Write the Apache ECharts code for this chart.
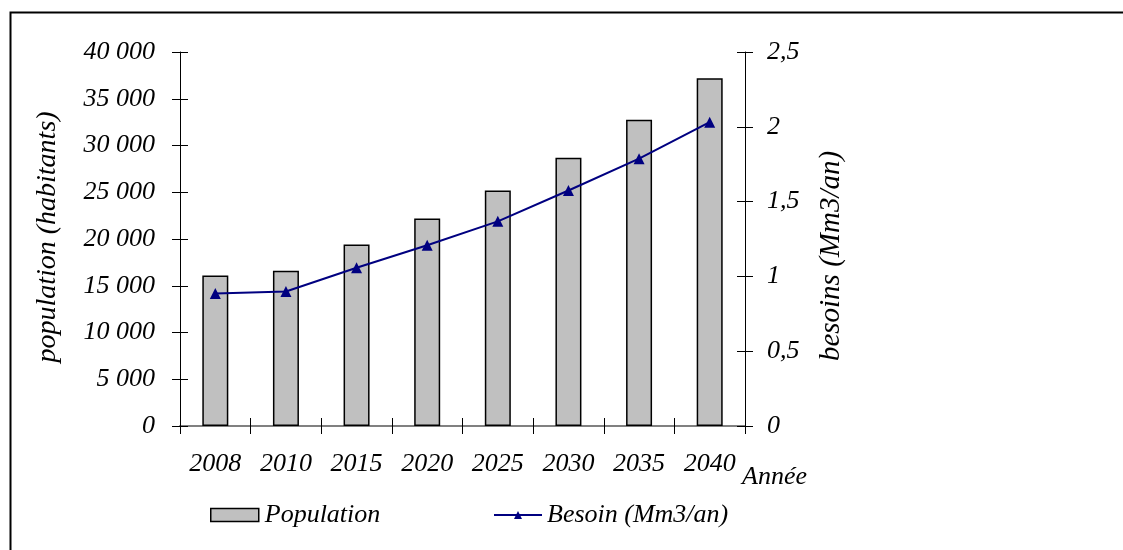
<!DOCTYPE html>
<html>
<head>
<meta charset="utf-8">
<script src="https://cdn.jsdelivr.net/npm/echarts@6/dist/echarts.min.js"></script>
<style>
html,body{margin:0;padding:0;background:#fff;}
#chart{width:1123px;height:550px;}
</style>
</head>
<body>
<div id="chart"></div>
<script>
const categories = ['2008','2010','2015','2020','2025','2030','2035','2040'];
const population = [16100, 16600, 19400, 22200, 25200, 28700, 32750, 37200];
const besoin = [0.886, 0.899, 1.058, 1.208, 1.368, 1.574, 1.787, 2.031];
const leftTicks = [0, 5000, 10000, 15000, 20000, 25000, 30000, 35000, 40000];
const rightTicks = [0, 0.5, 1, 1.5, 2, 2.5];

const FONT = '"Liberation Serif", "DejaVu Serif", serif';
const FS = 26;
const txt = {fontFamily: FONT, fontStyle: 'italic', fontSize: FS, color: '#000'};

const chart = echarts.init(document.getElementById('chart'));
const fmtLeft = v => v === 0 ? '0' : String(v).replace(/\B(?=(\d{3})+(?!\d))/g, ' ');
const fmtRight = v => String(v).replace('.', ',');

chart.setOption({
  animation: false,
  backgroundColor: '#fff',
  grid: {left: 180, right: 378, top: 52, bottom: 124, containLabel: false},
  legend: [
    {
      data: [{name: 'Population', icon: 'rect'}], left: 210, top: 502, padding: 0,
      itemWidth: 48, itemHeight: 13, itemGap: 0,
      textStyle: Object.assign({}, txt, {padding: [0, 0, 0, 1]}),
      itemStyle: {borderColor: '#000', borderWidth: 1.5}
    },
    {
      data: ['Besoin (Mm3/an)'], left: 493, top: 502, padding: 0,
      itemWidth: 48, itemHeight: 10,
      textStyle: Object.assign({}, txt, {padding: [0, 0, 0, 0]})
    }
  ],
  xAxis: [
    {
      type: 'category', data: categories, position: 'bottom',
      axisLine: {lineStyle: {color: '#808080', width: 2}},
      axisTick: {show: true, inside: false, length: 8, lineStyle: {color: '#000', width: 1}},
      axisLabel: Object.assign({}, txt, {margin: 25})
    },
    {
      type: 'category', data: categories, position: 'bottom',
      axisLine: {show: false},
      axisTick: {show: true, inside: true, length: 8, lineStyle: {color: '#000', width: 1}},
      axisLabel: {show: false}
    }
  ],
  yAxis: [
    {
      type: 'value', position: 'left', min: leftTicks[0], max: leftTicks[leftTicks.length - 1], interval: 5000,
      axisLine: {show: true, lineStyle: {color: '#000', width: 1}},
      axisTick: {show: true, inside: false, length: 8, lineStyle: {color: '#000'}},
      axisLabel: Object.assign({}, txt, {margin: 25, formatter: fmtLeft}),
      splitLine: {show: false}
    },
    {
      type: 'value', position: 'left', min: leftTicks[0], max: leftTicks[leftTicks.length - 1], interval: 5000,
      axisLine: {show: false},
      axisTick: {show: true, inside: true, length: 8, lineStyle: {color: '#000'}},
      axisLabel: {show: false}, splitLine: {show: false}
    },
    {
      type: 'value', position: 'right', min: rightTicks[0], max: rightTicks[rightTicks.length - 1], interval: 0.5,
      axisLine: {show: true, lineStyle: {color: '#000', width: 1}},
      axisTick: {show: true, inside: false, length: 8, lineStyle: {color: '#000'}},
      axisLabel: Object.assign({}, txt, {margin: 22, formatter: fmtRight}),
      splitLine: {show: false}
    },
    {
      type: 'value', position: 'right', min: rightTicks[0], max: rightTicks[rightTicks.length - 1], interval: 0.5,
      axisLine: {show: false},
      axisTick: {show: true, inside: true, length: 8, lineStyle: {color: '#000'}},
      axisLabel: {show: false}, splitLine: {show: false}
    }
  ],
  series: [
    {
      name: 'Population', type: 'bar', xAxisIndex: 0, yAxisIndex: 0,
      data: population, barWidth: 26,
      itemStyle: {color: '#c0c0c0', borderColor: '#000', borderWidth: 1.5}
    },
    {
      name: 'Besoin (Mm3/an)', type: 'line', xAxisIndex: 0, yAxisIndex: 2,
      data: besoin, symbol: 'triangle', symbolSize: 11,
      lineStyle: {color: '#000080', width: 2},
      itemStyle: {color: '#000080'}
    }
  ],
  graphic: [
    {type: 'rect', left: 8, top: 10, shape: {width: 1300, height: 700}, style: {fill: 'none', stroke: '#000', lineWidth: 2}, silent: true},
    {type: 'text', x: 48, y: 237, rotation: Math.PI / 2, style: {text: 'population (habitants)', font: 'italic 28px ' + FONT, fill: '#000', align: 'center', verticalAlign: 'middle'}},
    {type: 'text', x: 831, y: 256, rotation: Math.PI / 2, style: {text: 'besoins (Mm3/an)', font: 'italic 29px ' + FONT, fill: '#000', align: 'center', verticalAlign: 'middle'}},
    {type: 'text', x: 742, y: 477, style: {text: 'Année', font: 'italic ' + FS + 'px ' + FONT, fill: '#000', align: 'left', verticalAlign: 'middle'}}
  ]
});
</script>
</body>
</html>
